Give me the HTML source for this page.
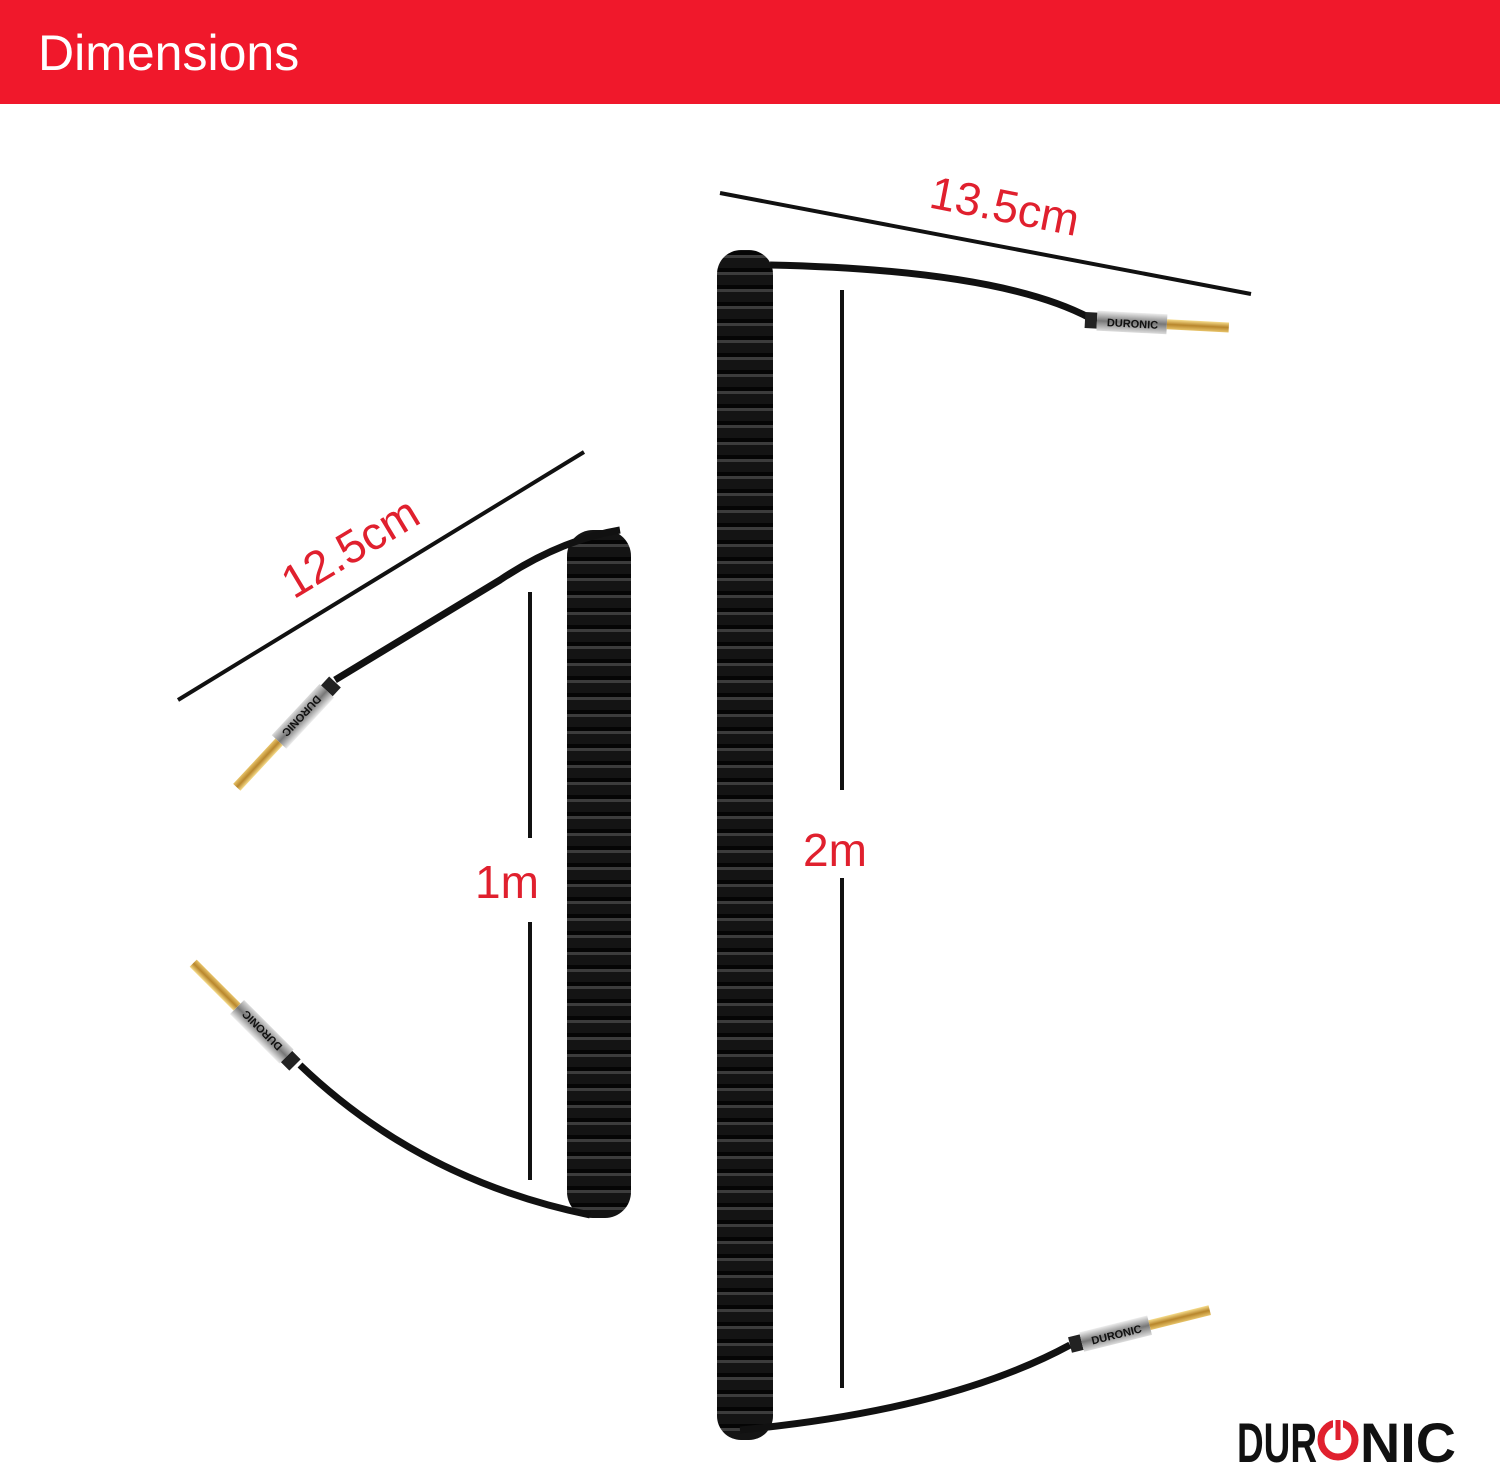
<!DOCTYPE html>
<html><head><meta charset="utf-8"><style>
html,body{margin:0;padding:0;background:#fff;}
body{width:1500px;height:1467px;position:relative;overflow:hidden;font-family:"Liberation Sans",sans-serif;}
.hdr{position:absolute;left:0;top:0;width:1500px;height:104px;background:#f0182b;}
.hdr span{position:absolute;left:38px;top:24px;color:#fff;font-size:50px;}
</style></head><body>
<div class="hdr"><span>Dimensions</span></div>
<svg width="1500" height="1467" style="position:absolute;left:0;top:0">
<defs>
<pattern id="coil" width="60" height="17" patternUnits="userSpaceOnUse">
<rect width="60" height="17" fill="#141414"/>
<rect y="0" width="60" height="3" fill="#3c3c3c"/>
<rect y="13" width="60" height="4" fill="#050505"/>
</pattern>
<linearGradient id="chrome" x1="0" y1="0" x2="0" y2="1"><stop offset="0" stop-color="#eee"/><stop offset=".5" stop-color="#777"/><stop offset="1" stop-color="#ddd"/></linearGradient>
<linearGradient id="gold" x1="0" y1="0" x2="0" y2="1"><stop offset="0" stop-color="#f6dc8a"/><stop offset=".5" stop-color="#b8862c"/><stop offset="1" stop-color="#e8c46a"/></linearGradient>
</defs>
<g stroke="#111" stroke-width="4">
<line x1="720" y1="193" x2="1251" y2="294"/>
<line x1="178" y1="700" x2="584" y2="452"/>
<line x1="842" y1="290" x2="842" y2="790"/>
<line x1="842" y1="878" x2="842" y2="1388"/>
<line x1="530" y1="592" x2="530" y2="838"/>
<line x1="530" y1="922" x2="530" y2="1180"/>
</g>
<g fill="#e0202e" font-family="Liberation Sans,sans-serif" font-size="46">
<text x="1005" y="222" text-anchor="middle" transform="rotate(11 1005 205)">13.5cm</text>
<text x="350" y="563" text-anchor="middle" transform="rotate(-31 350 547)">12.5cm</text>
<text x="803" y="866">2m</text>
<text x="475" y="898">1m</text>
</g>
<rect x="717" y="250" width="56" height="1190" rx="24" fill="url(#coil)"/>
<rect x="567" y="530" width="64" height="688" rx="26" fill="url(#coil)"/>
<g fill="none" stroke="#111" stroke-width="7">
<path d="M770 265 Q 1000 270 1090 318"/>
<path d="M740 1430 Q 950 1410 1070 1345"/>
<path d="M620 530 Q 560 540 500 580 L 335 680"/>
<path d="M590 1215 Q 420 1180 300 1065"/>
</g>
<g transform="translate(1085 320) rotate(3)"><rect x="0" y="-8" width="12" height="16" fill="#222"/><rect x="12" y="-10" width="70" height="20" fill="url(#chrome)"/><text x="22" y="5" font-size="11" font-weight="bold" fill="#111">DURONIC</text><rect x="82" y="-5" width="62" height="10" fill="url(#gold)"/></g>
<g transform="translate(1070 1345) rotate(-14)"><rect x="0" y="-8" width="12" height="16" fill="#222"/><rect x="12" y="-10" width="70" height="20" fill="url(#chrome)"/><text x="22" y="5" font-size="11" font-weight="bold" fill="#111">DURONIC</text><rect x="82" y="-5" width="62" height="10" fill="url(#gold)"/></g>
<g transform="translate(335 682) rotate(133)"><rect x="0" y="-8" width="12" height="16" fill="#222"/><rect x="12" y="-10" width="70" height="20" fill="url(#chrome)"/><text x="22" y="5" font-size="11" font-weight="bold" fill="#111">DURONIC</text><rect x="82" y="-5" width="62" height="10" fill="url(#gold)"/></g>
<g transform="translate(295 1065) rotate(-135)"><rect x="0" y="-8" width="12" height="16" fill="#222"/><rect x="12" y="-10" width="70" height="20" fill="url(#chrome)"/><text x="22" y="5" font-size="11" font-weight="bold" fill="#111">DURONIC</text><rect x="82" y="-5" width="62" height="10" fill="url(#gold)"/></g>
<g font-family="Liberation Sans,sans-serif" font-weight="bold" font-size="56" fill="#111">
<text x="1237" y="1462" textLength="80" lengthAdjust="spacingAndGlyphs">DUR</text>
<text x="1360" y="1462" textLength="96" lengthAdjust="spacingAndGlyphs">NIC</text>
</g>
<circle cx="1338" cy="1440" r="17" fill="none" stroke="#e0202e" stroke-width="7"/>
<line x1="1338" y1="1418" x2="1338" y2="1440" stroke="#fff" stroke-width="10"/>
<line x1="1338" y1="1420" x2="1338" y2="1440" stroke="#e0202e" stroke-width="5"/>
</svg>
</body></html>
